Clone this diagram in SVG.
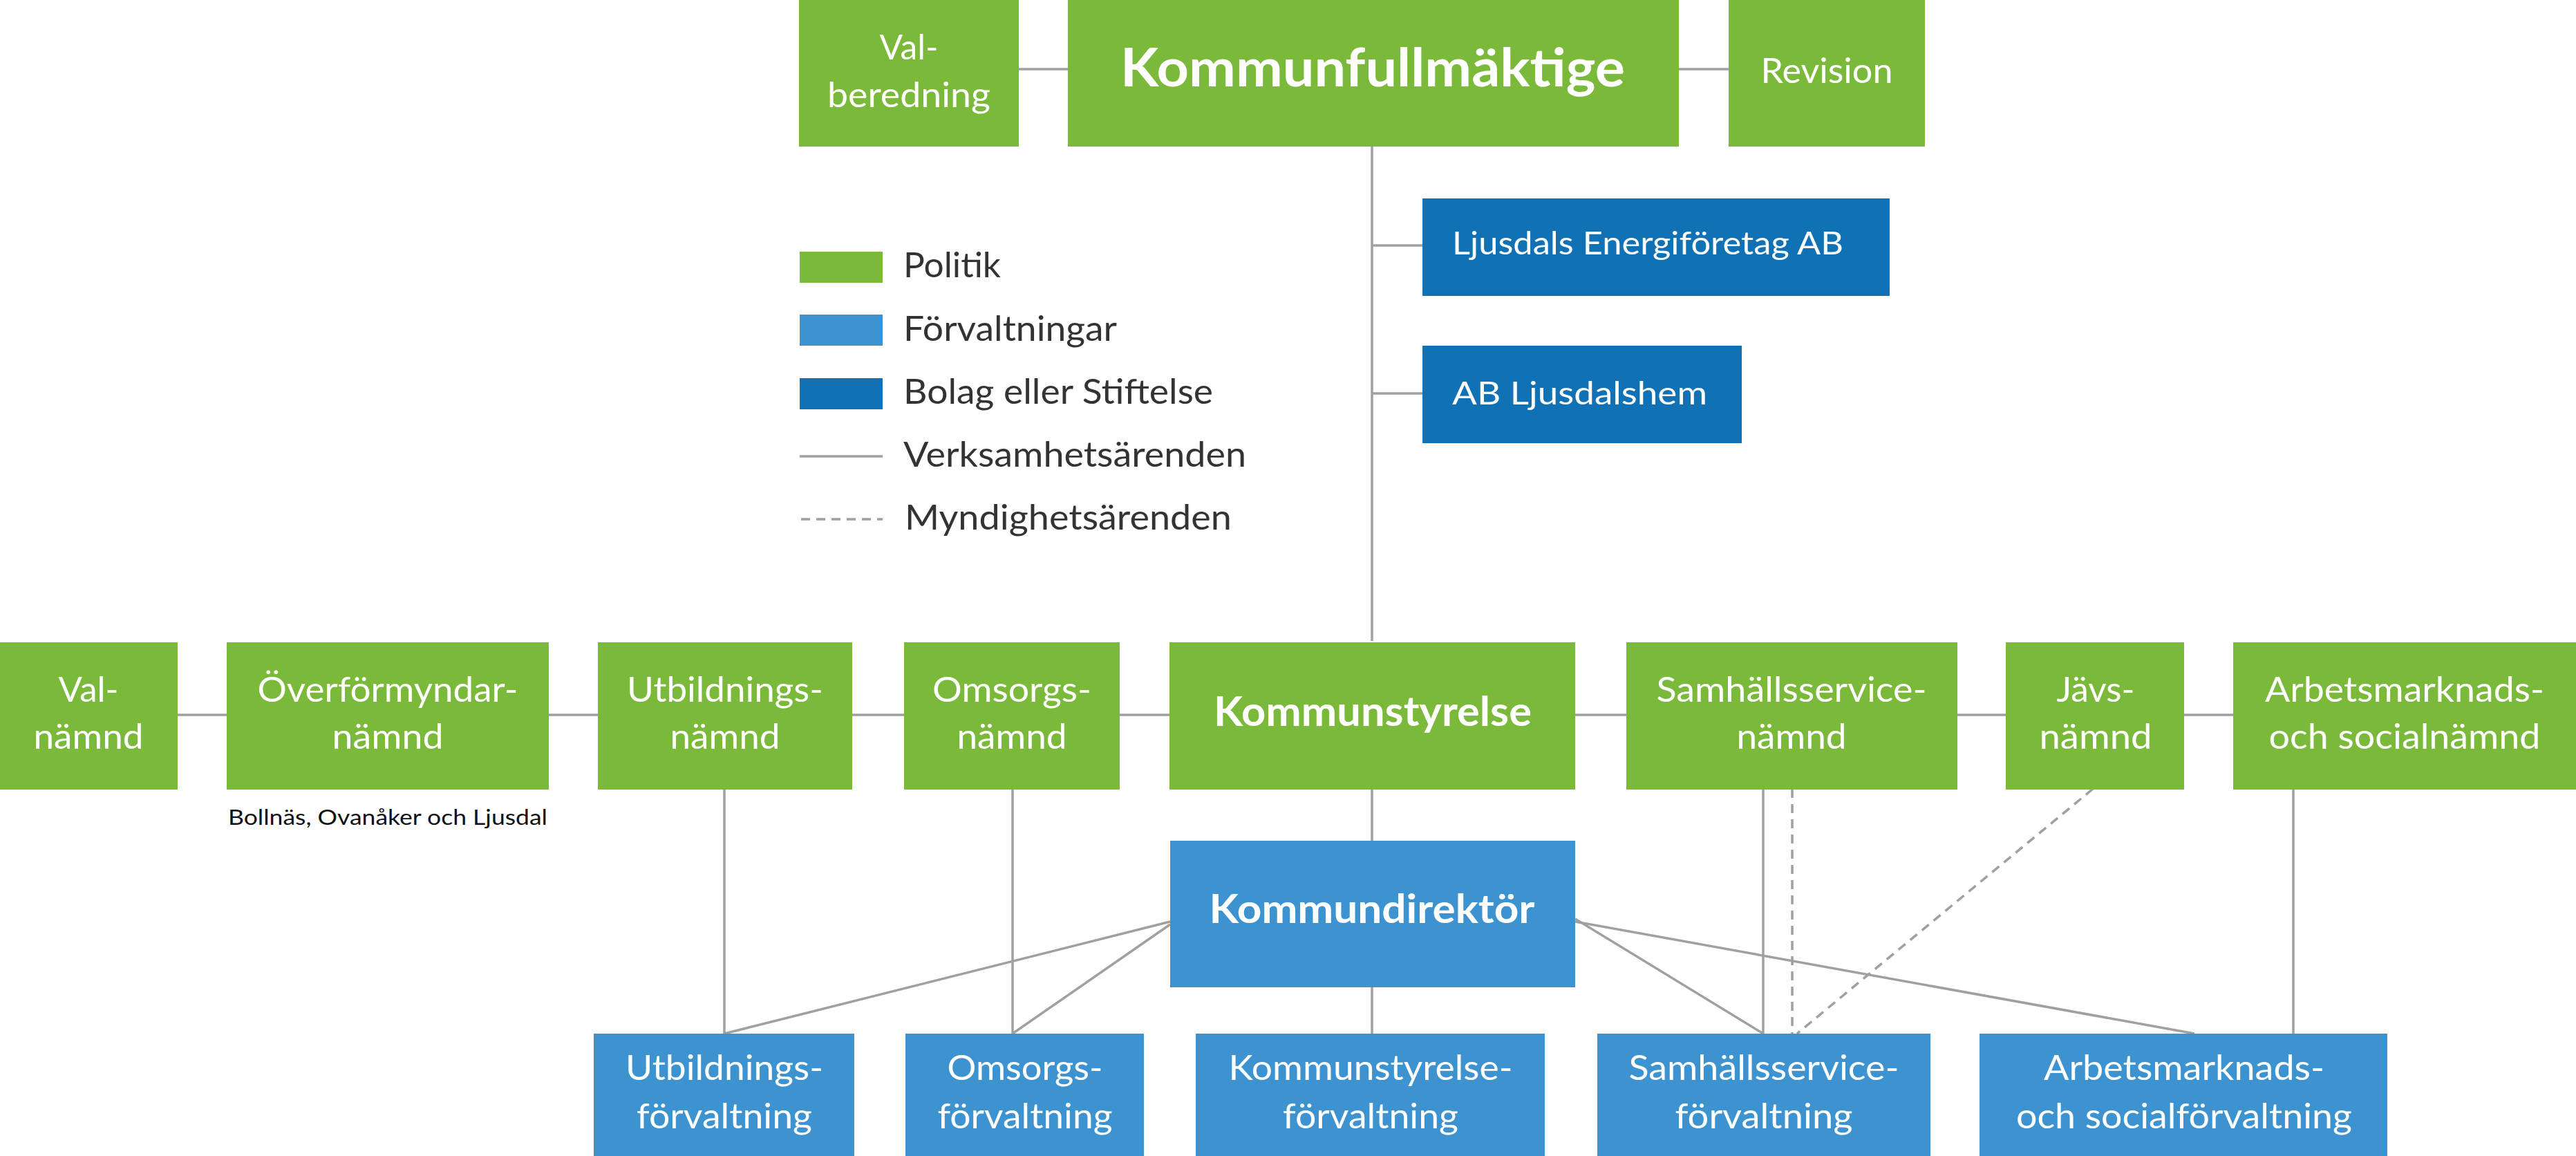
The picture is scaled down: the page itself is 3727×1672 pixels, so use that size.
<svg xmlns="http://www.w3.org/2000/svg" width="3727" height="1672" viewBox="0 0 3727 1672">
<style>
.g{fill:#7AB93A}
.b{fill:#3D93D0}
.d{fill:#1072B5}
.t{font-family:Lato,"Open Sans","Liberation Sans",sans-serif;fill:#FFFFFF;text-anchor:middle;font-size:51px}
.tb{font-weight:bold}
.l{font-family:Lato,"Open Sans","Liberation Sans",sans-serif;fill:#333333;font-size:50px}
.c{stroke:#A0A0A0;stroke-width:3.5;fill:none}
.ds{stroke-dasharray:13 9}
</style>
<rect width="3727" height="1672" fill="#FFFFFF"/>
<g id="connectors">
<line class="c" x1="1474" y1="100" x2="1545" y2="100"/>
<line class="c" x1="2429" y1="100" x2="2501" y2="100"/>
<line class="c" x1="1985" y1="212" x2="1985" y2="927"/>
<line class="c" x1="1985" y1="355" x2="2058" y2="355"/>
<line class="c" x1="1985" y1="569" x2="2058" y2="569"/>
<line class="c" x1="257" y1="1034" x2="3231" y2="1034"/>
<line class="c" x1="1985" y1="1141" x2="1985" y2="1216"/>
<line class="c" x1="1985" y1="1428" x2="1985" y2="1495"/>
<line class="c" x1="1048" y1="1141" x2="1048" y2="1495"/>
<line class="c" x1="1465" y1="1141" x2="1465" y2="1495"/>
<line class="c" x1="2551" y1="1141" x2="2551" y2="1495"/>
<line class="c ds" x1="2593" y1="1141" x2="2593" y2="1495"/>
<line class="c ds" x1="3028" y1="1141" x2="2600" y2="1495"/>
<line class="c" x1="3318" y1="1141" x2="3318" y2="1495"/>
<line class="c" x1="1693" y1="1333" x2="1048" y2="1495"/>
<line class="c" x1="1693" y1="1337" x2="1465" y2="1495"/>
<line class="c" x1="2279" y1="1329" x2="2551" y2="1495"/>
<line class="c" x1="2279" y1="1333" x2="3175" y2="1495"/>
</g>
<g id="legend">
<rect class="g" x="1157" y="364" width="120" height="45"/>
<text class="l" x="1307" y="401" textLength="141" lengthAdjust="spacingAndGlyphs">Politik</text>
<rect class="b" x="1157" y="455" width="120" height="45"/>
<text class="l" x="1307" y="493" textLength="309" lengthAdjust="spacingAndGlyphs">Förvaltningar</text>
<rect class="d" x="1157" y="547" width="120" height="45"/>
<text class="l" x="1307" y="584" textLength="448" lengthAdjust="spacingAndGlyphs">Bolag eller Stiftelse</text>
<line class="c" x1="1157" y1="660" x2="1277" y2="660"/>
<text class="l" x="1307" y="675" textLength="496" lengthAdjust="spacingAndGlyphs">Verksamhetsärenden</text>
<line class="c ds" x1="1159" y1="751" x2="1277" y2="751"/>
<text class="l" x="1309" y="766" textLength="473" lengthAdjust="spacingAndGlyphs">Myndighetsärenden</text>
</g>
<g id="valberedning">
<rect class="g" x="1156" y="0" width="318" height="212"/>
<text class="t" x="1315" y="86" textLength="85" lengthAdjust="spacingAndGlyphs">Val-</text>
<text class="t" x="1315" y="155" textLength="236" lengthAdjust="spacingAndGlyphs">beredning</text>
</g>
<g id="kommunfullmaktige">
<rect class="g" x="1545" y="0" width="884" height="212"/>
<text class="t tb" x="1986" y="125" style="font-size:77px" textLength="730" lengthAdjust="spacingAndGlyphs">Kommunfullmäktige</text>
</g>
<g id="revision">
<rect class="g" x="2501" y="0" width="284" height="212"/>
<text class="t" x="2643" y="120" textLength="191" lengthAdjust="spacingAndGlyphs">Revision</text>
</g>
<g id="energiforetag">
<rect class="d" x="2058" y="287" width="676" height="141"/>
<text class="t" x="2101" y="368" style="text-anchor:start;font-size:46px" textLength="566" lengthAdjust="spacingAndGlyphs">Ljusdals Energiföretag AB</text>
</g>
<g id="ljusdalshem">
<rect class="d" x="2058" y="500" width="462" height="141"/>
<text class="t" x="2101" y="585" style="text-anchor:start;font-size:47px" textLength="369" lengthAdjust="spacingAndGlyphs">AB Ljusdalshem</text>
</g>
<g id="valnamnd">
<rect class="g" x="0" y="929" width="257" height="213"/>
<text class="t" x="128" y="1015" textLength="87" lengthAdjust="spacingAndGlyphs">Val-</text>
<text class="t" x="128" y="1083" textLength="159" lengthAdjust="spacingAndGlyphs">nämnd</text>
</g>
<g id="overformyndarnamnd">
<rect class="g" x="328" y="929" width="466" height="213"/>
<text class="t" x="561" y="1015" textLength="377" lengthAdjust="spacingAndGlyphs">Överförmyndar-</text>
<text class="t" x="561" y="1083" textLength="161" lengthAdjust="spacingAndGlyphs">nämnd</text>
<text x="330" y="1193" style="font-family:Lato,'Open Sans','Liberation Sans',sans-serif;font-size:30px;fill:#111111" textLength="462" lengthAdjust="spacingAndGlyphs">Bollnäs, Ovanåker och Ljusdal</text>
</g>
<g id="utbildningsnamnd">
<rect class="g" x="865" y="929" width="368" height="213"/>
<text class="t" x="1049" y="1015" textLength="284" lengthAdjust="spacingAndGlyphs">Utbildnings-</text>
<text class="t" x="1049" y="1083" textLength="159" lengthAdjust="spacingAndGlyphs">nämnd</text>
</g>
<g id="omsorgsnamnd">
<rect class="g" x="1308" y="929" width="312" height="213"/>
<text class="t" x="1464" y="1015" textLength="230" lengthAdjust="spacingAndGlyphs">Omsorgs-</text>
<text class="t" x="1464" y="1083" textLength="159" lengthAdjust="spacingAndGlyphs">nämnd</text>
</g>
<g id="kommunstyrelse">
<rect class="g" x="1692" y="929" width="587" height="213"/>
<text class="t tb" x="1986" y="1050" style="font-size:59px" textLength="460" lengthAdjust="spacingAndGlyphs">Kommunstyrelse</text>
</g>
<g id="samhallsservicenamnd">
<rect class="g" x="2353" y="929" width="479" height="213"/>
<text class="t" x="2592" y="1015" textLength="391" lengthAdjust="spacingAndGlyphs">Samhällsservice-</text>
<text class="t" x="2592" y="1083" textLength="159" lengthAdjust="spacingAndGlyphs">nämnd</text>
</g>
<g id="javsnamnd">
<rect class="g" x="2902" y="929" width="258" height="213"/>
<text class="t" x="3032" y="1015" textLength="113" lengthAdjust="spacingAndGlyphs">Jävs-</text>
<text class="t" x="3032" y="1083" textLength="163" lengthAdjust="spacingAndGlyphs">nämnd</text>
</g>
<g id="arbetsmarknadsnamnd">
<rect class="g" x="3231" y="929" width="496" height="213"/>
<text class="t" x="3479" y="1015" textLength="404" lengthAdjust="spacingAndGlyphs">Arbetsmarknads-</text>
<text class="t" x="3479" y="1083" textLength="393" lengthAdjust="spacingAndGlyphs">och socialnämnd</text>
</g>
<g id="kommundirektor">
<rect class="b" x="1693" y="1216" width="586" height="212"/>
<text class="t tb" x="1985" y="1335" style="font-size:58px" textLength="471" lengthAdjust="spacingAndGlyphs">Kommundirektör</text>
</g>
<g id="utbildningsforvaltning">
<rect class="b" x="859" y="1495" width="377" height="177"/>
<text class="t" x="1048" y="1562" textLength="286" lengthAdjust="spacingAndGlyphs">Utbildnings-</text>
<text class="t" x="1048" y="1632" textLength="254" lengthAdjust="spacingAndGlyphs">förvaltning</text>
</g>
<g id="omsorgsforvaltning">
<rect class="b" x="1310" y="1495" width="345" height="177"/>
<text class="t" x="1483" y="1562" textLength="225" lengthAdjust="spacingAndGlyphs">Omsorgs-</text>
<text class="t" x="1483" y="1632" textLength="253" lengthAdjust="spacingAndGlyphs">förvaltning</text>
</g>
<g id="kommunstyrelseforvaltning">
<rect class="b" x="1730" y="1495" width="505" height="177"/>
<text class="t" x="1983" y="1562" textLength="411" lengthAdjust="spacingAndGlyphs">Kommunstyrelse-</text>
<text class="t" x="1983" y="1632" textLength="254" lengthAdjust="spacingAndGlyphs">förvaltning</text>
</g>
<g id="samhallsserviceforvaltning">
<rect class="b" x="2311" y="1495" width="482" height="177"/>
<text class="t" x="2552" y="1562" textLength="391" lengthAdjust="spacingAndGlyphs">Samhällsservice-</text>
<text class="t" x="2552" y="1632" textLength="257" lengthAdjust="spacingAndGlyphs">förvaltning</text>
</g>
<g id="arbetsmarknadsforvaltning">
<rect class="b" x="2864" y="1495" width="590" height="177"/>
<text class="t" x="3160" y="1562" textLength="406" lengthAdjust="spacingAndGlyphs">Arbetsmarknads-</text>
<text class="t" x="3160" y="1632" textLength="486" lengthAdjust="spacingAndGlyphs">och socialförvaltning</text>
</g>
</svg>
